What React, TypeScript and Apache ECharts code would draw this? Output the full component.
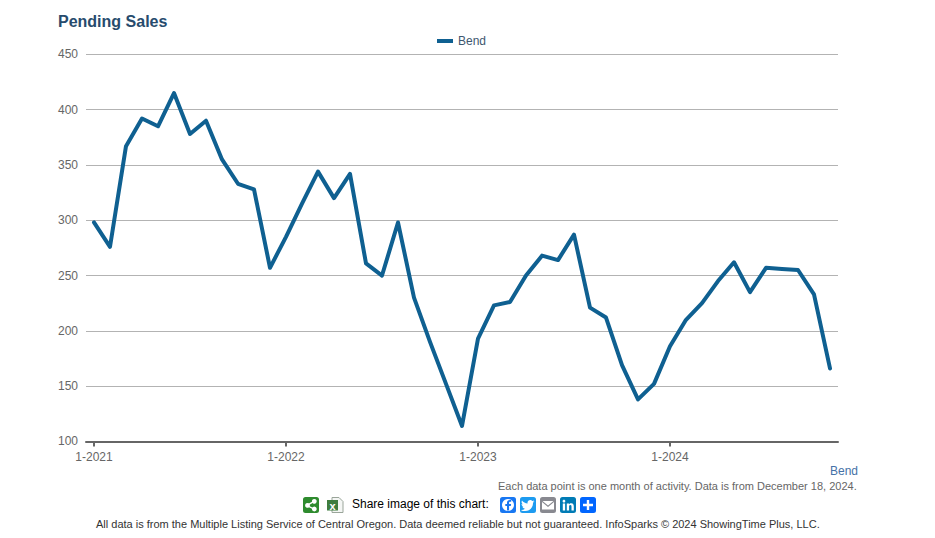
import React, { useEffect, useRef } from "react";
import * as echarts from "echarts";

const seriesName = "Bend";
const years = ["2021", "2022", "2023", "2024"];
const lastYearMonths = 11;
const values = [
  298, 276, 367, 392, 385, 415, 378, 390, 355, 333, 328, 257,
  285, 315, 344, 320, 342, 261, 250, 298, 230, 190, 152, 114,
  193, 223, 226, 250, 268, 264, 287, 221, 212, 169, 138, 152,
  186, 210, 225, 245, 262, 235, 257, 256, 255, 233, 166,
];
const categories = years.flatMap((y, yi) =>
  Array.from({ length: yi === years.length - 1 ? lastYearMonths : 12 }, (_, m) => `${m + 1}-${y}`)
);
const yMin = 100;
const yMax = 450;
const yStep = 50;

echarts.graphic.registerShape("fbGlyph", echarts.graphic.extendPath(
  "M9.1 13.6 V8.9 H10.8 L11.1 7 H9.1 V5.8 C9.1 5.2 9.4 4.8 10.2 4.8 H11.2 V3.1 C10.9 3.1 10.3 3 9.7 3 C8.1 3 7 4 7 5.7 V7 H5.3 V8.9 H7 V13.6 Z", {}));
echarts.graphic.registerShape("twGlyph", echarts.graphic.extendPath(
  "M14.5 4.3 C14 4.5 13.5 4.7 12.9 4.7 C13.5 4.4 13.9 3.8 14.1 3.2 C13.6 3.5 13 3.8 12.3 3.9 C11.8 3.3 11.1 3 10.3 3 C8.8 3 7.5 4.2 7.5 5.8 C7.5 6 7.5 6.2 7.6 6.4 C5.3 6.3 3.3 5.2 2 3.5 C1.8 3.9 1.6 4.4 1.6 4.9 C1.6 5.9 2.1 6.7 2.8 7.2 C2.3 7.2 1.9 7.1 1.5 6.9 C1.5 8.3 2.5 9.4 3.7 9.7 C3.3 9.8 2.8 9.8 2.4 9.7 C2.8 10.8 3.8 11.600 5 11.7 C4 12.5 2.7 12.9 1.5 12.9 H0.8 C2 13.7 3.5 14.100 5.100 14.100 C10.200 14.100 13 9.900 13 6.200 V5.800 C13.600 5.400 14 4.900 14.500 4.300 Z", {}));
echarts.graphic.registerShape("liGlyph", echarts.graphic.extendPath(
  "M2.800 6.500 H5.100 V13.500 H2.800 Z M3.950 2.800 C4.700 2.800 5.300 3.400 5.300 4.150 C5.300 4.900 4.700 5.500 3.950 5.500 C3.200 5.500 2.600 4.900 2.600 4.150 C2.600 3.400 3.200 2.800 3.950 2.800 Z M6.800 6.500 H9 V7.500 C9.400 6.800 10.200 6.300 11.200 6.300 C13.300 6.300 13.800 7.700 13.800 9.500 V13.500 H11.500 V10 C11.500 9.100 11.500 8.100 10.300 8.100 C9.200 8.100 9.100 9 9.100 9.900 V13.500 H6.800 Z", {}));
echarts.graphic.registerShape("plusGlyph", echarts.graphic.extendPath(
  "M6.800 3 H9.200 V6.800 H13 V9.200 H9.200 V13 H6.800 V9.200 H3 V6.800 H6.800 Z", {}));
echarts.graphic.registerShape("mailGlyph", echarts.graphic.extendPath(
  "M2.500 4 H13.500 L8 8.500 Z M2 5 L8 10 L14 5 V12.500 H2 Z", {}));
echarts.graphic.registerShape("shareLines", echarts.graphic.extendPath(
  "M4.500 7.300 L10.800 3.800 L11.500 5 L5.200 8.500 L11.500 11.500 L10.900 12.700 L4.500 9.500 Z", {}));

const footGray = "#666666";

function badge(x: number, y: number, fill: string, children: any[]) {
  return {
    type: "group", x, y,
    children: [
      { type: "rect", shape: { x: 0, y: 0, width: 16, height: 16, r: 2.500 }, style: { fill } },
      ...children,
    ],
  };
}
const glyph = (name: string) => ({ type: name, style: { fill: "#ffffff" } });

export default function App() {
  const ref = useRef<HTMLDivElement>(null);
  useEffect(() => {
    document.body.style.margin = "0";
    const chart = echarts.init(ref.current!, undefined, { renderer: "svg" });
    const font = "Liberation Sans";
    chart.setOption({
      animation: false,
      textStyle: { fontFamily: font },
      title: {
        text: "Pending Sales", left: 53, top: 8,
        textStyle: { fontFamily: font, fontSize: 16, fontWeight: "bold", color: "#274b6d" },
      },
      legend: {
        left: 432, top: 30, icon: "rect", itemWidth: 16, itemHeight: 4, itemGap: 5,
        data: [seriesName],
        textStyle: { fontFamily: font, fontSize: 12, color: "#3e576f" },
      },
      grid: { left: 86, right: 97, top: 54.4, height: 387, containLabel: false },
      xAxis: {
        type: "category", data: categories, boundaryGap: true,
        axisLine: { lineStyle: { color: "#666666", width: 2 } },
        axisTick: { show: true, alignWithLabel: true, length: 5, interval: 11, lineStyle: { color: "#666666", width: 2 } },
        axisLabel: { interval: 11, color: footGray, fontSize: 12, margin: 10, fontFamily: font },
        splitLine: { show: false },
      },
      yAxis: {
        type: "value", min: yMin, max: yMax, interval: yStep,
        axisLine: { show: false }, axisTick: { show: false },
        axisLabel: { color: footGray, fontSize: 12, margin: 8, fontFamily: font, padding: [4, 0, 0, 0] },
        splitLine: { lineStyle: { color: "#b3b3b3", width: 1 } },
      },
      series: [{
        name: seriesName, type: "line", data: values, showSymbol: false, smooth: false,
        lineStyle: { color: "#0f6091", width: 4, join: "round", cap: "round" }, itemStyle: { color: "#0f6091" },
      }],
      graphic: [
        { type: "text", x: 830, y: 465, style: { text: seriesName, fontFamily: font, fontSize: 12, fill: "#4572a7" } },
        { type: "text", x: 498, y: 480, style: { text: "Each data point is one month of activity. Data is from December 18, 2024.", fontFamily: font, fontSize: 11, fill: footGray } },
        { type: "text", x: 352, y: 498, style: { text: "Share image of this chart:", fontFamily: font, fontSize: 12, fill: "#000000" } },
        { type: "text", x: 96, y: 518, style: { text: "All data is from the Multiple Listing Service of Central Oregon. Data deemed reliable but not guaranteed. InfoSparks © 2024 ShowingTime Plus, LLC.", fontFamily: font, fontSize: 11, fill: "#333333" } },
        badge(303, 497, "#2e8b2e", [
          glyph("shareLines"),
          { type: "circle", shape: { cx: 4.500, cy: 8.400, r: 2.400 }, style: { fill: "#ffffff" } },
          { type: "circle", shape: { cx: 11.300, cy: 4.300, r: 2.400 }, style: { fill: "#ffffff" } },
          { type: "circle", shape: { cx: 11.300, cy: 12, r: 2.400 }, style: { fill: "#ffffff" } },
        ]),
        {
          type: "group", x: 327, y: 497,
          children: [
            { type: "polygon", shape: { points: [[5, 0.500], [12, 0.500], [16, 4.500], [16, 15.500], [5, 15.500]] }, style: { fill: "#f4f6f4", stroke: "#9aa59a", lineWidth: 1 } },
            { type: "rect", shape: { x: 0, y: 3, width: 11, height: 10.500 }, style: { fill: "#3f7d3f" } },
            { type: "text", x: 2.500, y: 3, style: { text: "x", fontFamily: font, fontSize: 11, fontWeight: "bold", fill: "#ffffff" } },
          ],
        },
        badge(500, 497, "#1877f2", [
          { type: "circle", shape: { cx: 8, cy: 8, r: 6 }, style: { fill: "#ffffff" } },
          { type: "fbGlyph", style: { fill: "#1877f2" } },
        ]),
        badge(520, 497, "#1d9bf0", [glyph("twGlyph")]),
        badge(540, 497, "#888990", [glyph("mailGlyph")]),
        badge(560, 497, "#007bb5", [glyph("liGlyph")]),
        badge(580, 497, "#0166ff", [glyph("plusGlyph")]),
      ],
    });
    return () => chart.dispose();
  }, []);
  return <div ref={ref} style={{ position: "absolute", left: 0, top: 0, width: 935, height: 538 }} />;
}
